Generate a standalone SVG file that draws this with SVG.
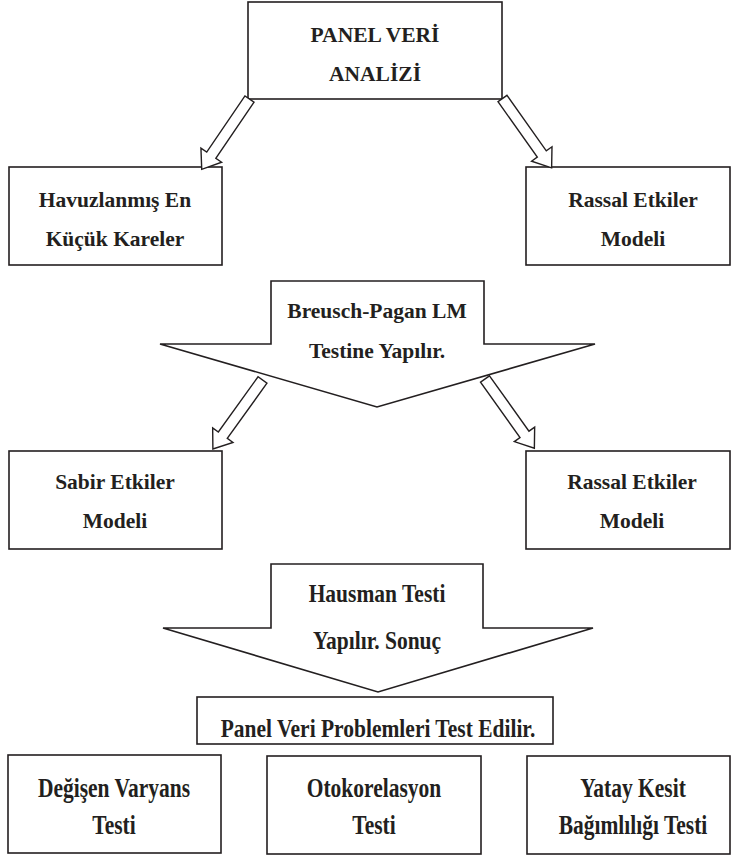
<svg xmlns="http://www.w3.org/2000/svg" xmlns:xlink="http://www.w3.org/1999/xlink" width="732" height="856" viewBox="0 0 732 856">
<style>
.box{fill:#fff;stroke:#231f20;stroke-width:1.6}
.conn{fill:#fff;stroke:#231f20;stroke-width:1.4;stroke-linejoin:miter}
text{font-family:"Liberation Serif","Times New Roman",serif;font-weight:bold;font-size:21.5px;fill:#231f20;text-anchor:middle}
</style>
<defs>
<polygon id="harrow" points="0,-5.5 68,-5.5 68,-12.5 85,0 68,12.5 68,5.5 0,5.5"/>
</defs>
<rect width="732" height="856" fill="#fff"/>
<g id="panel-veri-analizi">
<rect class="box" x="248" y="2" width="254" height="97"/>
<text x="375" y="42">PANEL VERİ</text>
<text x="375" y="81">ANALİZİ</text>
</g>
<g id="havuzlanmis">
<rect class="box" x="9" y="167" width="213" height="98"/>
<text x="115" y="207">Havuzlanmış En</text>
<text x="115" y="246">Küçük Kareler</text>
</g>
<g id="rassal-1">
<rect class="box" x="526" y="167" width="204" height="98"/>
<text x="633" y="207">Rassal Etkiler</text>
<text x="633" y="246">Modeli</text>
</g>
<g id="breusch-pagan">
<polygon class="box" points="271,281 484,281 484,344 595,344 377,407 160,344 271,344"/>
<text x="377" y="318">Breusch-Pagan LM</text>
<text x="377" y="358">Testine Yapılır.</text>
</g>
<g id="sabir">
<rect class="box" x="9" y="451" width="213" height="98"/>
<text x="115" y="489">Sabir Etkiler</text>
<text x="115" y="528">Modeli</text>
</g>
<g id="rassal-2">
<rect class="box" x="526" y="451" width="204" height="98"/>
<text x="632" y="489">Rassal Etkiler</text>
<text x="632" y="528">Modeli</text>
</g>
<g id="hausman">
<polygon class="box" points="271,564 483,564 483,628 593,628 378,692 163,628 271,628"/>
<text transform="translate(377,602) scale(1,1.2)">Hausman Testi</text>
<text transform="translate(377,649) scale(1,1.2)">Yapılır. Sonuç</text>
</g>
<g id="panel-problemleri">
<rect class="box" x="197" y="697" width="356" height="47"/>
<text transform="translate(378,737) scale(1,1.2)">Panel Veri Problemleri Test Edilir.</text>
</g>
<g id="degisen-varyans">
<rect class="box" x="8" y="755" width="213" height="98"/>
<text transform="translate(114,797) scale(1,1.3)">Değişen Varyans</text>
<text transform="translate(114,834) scale(1,1.3)">Testi</text>
</g>
<g id="otokorelasyon">
<rect class="box" x="267" y="756" width="214" height="98"/>
<text transform="translate(374,797) scale(1,1.3)">Otokorelasyon</text>
<text transform="translate(374,834) scale(1,1.3)">Testi</text>
</g>
<g id="yatay-kesit">
<rect class="box" x="527" y="756" width="203" height="98"/>
<text transform="translate(633,797) scale(1,1.3)">Yatay Kesit</text>
<text transform="translate(633,834) scale(1,1.3)">Bağımlılığı Testi</text>
</g>
<g id="connectors">
<use class="conn" xlink:href="#harrow" href="#harrow" transform="translate(249.5,99) rotate(124.2)"/>
<use class="conn" xlink:href="#harrow" href="#harrow" transform="translate(502.5,98.5) rotate(54.7)"/>
<use class="conn" xlink:href="#harrow" href="#harrow" transform="translate(262.5,380) rotate(125.7)"/>
<use class="conn" xlink:href="#harrow" href="#harrow" transform="translate(485,379) rotate(54.5)"/>
</g>
</svg>
